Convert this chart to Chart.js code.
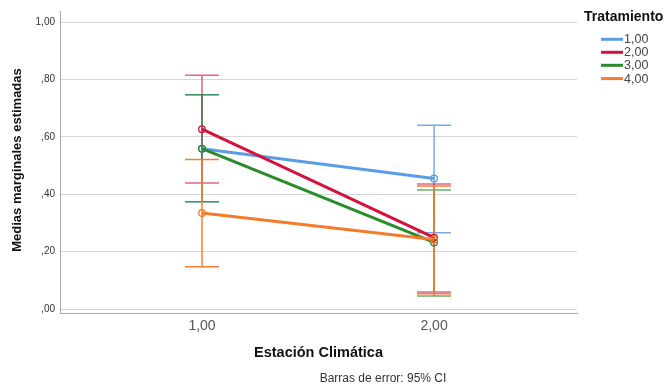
<!DOCTYPE html>
<html>
<head>
<meta charset="utf-8">
<script src="https://cdn.jsdelivr.net/npm/chart.js@4/dist/chart.umd.min.js"></script>
<style>
  html, body { margin: 0; padding: 0; background: #ffffff; }
  #wrap { width: 667px; height: 386px; position: relative; }
</style>
</head>
<body>
<div id="wrap"><canvas id="c" width="667" height="386"></canvas></div>
<script>
// Estimated marginal means by climatic station, one line per treatment, with 95% CI bars
const categories = [1, 2];
const xTickLabels = ['1,00', '2,00'];
const yTickValues = [0, 0.2, 0.4, 0.6, 0.8, 1.0];
const yTickLabels = [',00', ',20', ',40', ',60', ',80', '1,00'];
const seriesNames = ['1,00', '2,00', '3,00', '4,00'];

const means1 = [0.559, 0.455];
const lower1 = [0.374, 0.266];
const upper1 = [0.747, 0.641];

const means2 = [0.627, 0.249];
const lower2 = [0.439, 0.059];
const upper2 = [0.815, 0.436];

const means3 = [0.559, 0.232];
const lower3 = [0.374, 0.045];
const upper3 = [0.747, 0.415];

const means4 = [0.335, 0.242];
const lower4 = [0.147, 0.053];
const upper4 = [0.521, 0.429];

const colors = ['#5a9de6', '#d4123c', '#2b8a2e', '#f47b2c'];
const barColors = ['rgba(90,157,230,0.85)', 'rgba(212,18,60,0.65)', 'rgba(43,138,46,0.7)', 'rgba(246,128,50,1)'];

const allMeans = [means1, means2, means3, means4];
const allLower = [lower1, lower2, lower3, lower4];
const allUpper = [upper1, upper2, upper3, upper4];

const FONT = '"Liberation Sans", Arial, sans-serif';

const datasets = seriesNames.map((name, i) => ({
  label: name,
  data: categories.map((c, j) => ({ x: c, y: allMeans[i][j] })),
  borderColor: colors[i],
  backgroundColor: 'rgba(0,0,0,0)',
  borderWidth: 3,
  pointRadius: 3.3,
  pointBorderWidth: 1.3,
  pointBackgroundColor: 'rgba(255,255,255,0)',
  pointBorderColor: colors[i],
  tension: 0,
  order: seriesNames.length - i
}));

// CI whiskers, drawn under the mean lines through the chart scales
const errorBars = {
  id: 'errorBars',
  beforeDatasetsDraw(chart) {
    const { ctx, scales: { x, y } } = chart;
    const cap = 17;
    ctx.save();
    ctx.lineWidth = 1.5;
    allMeans.forEach((m, i) => {
      ctx.strokeStyle = barColors[i];
      categories.forEach((c, j) => {
        const px = x.getPixelForValue(c);
        const lo = y.getPixelForValue(allLower[i][j]);
        const hi = y.getPixelForValue(allUpper[i][j]);
        ctx.beginPath();
        ctx.moveTo(px, lo); ctx.lineTo(px, hi);
        ctx.moveTo(px - cap, lo); ctx.lineTo(px + cap, lo);
        ctx.moveTo(px - cap, hi); ctx.lineTo(px + cap, hi);
        ctx.stroke();
      });
    });
    ctx.restore();
  }
};

// Axis titles, footnote and legend
const annotations = {
  id: 'annotations',
  afterDraw(chart) {
    const { ctx, chartArea } = chart;
    ctx.save();
    ctx.fillStyle = '#111';
    ctx.textBaseline = 'middle';

    ctx.font = 'bold 13px ' + FONT;
    ctx.textAlign = 'center';
    ctx.save();
    ctx.translate(17, 160);
    ctx.rotate(-Math.PI / 2);
    ctx.fillText('Medias marginales estimadas', 0, 0);
    ctx.restore();

    ctx.font = 'bold 14.5px ' + FONT;
    ctx.fillText('Estación Climática', (chartArea.left + chartArea.right) / 2, 353);

    ctx.font = '12px ' + FONT;
    ctx.fillStyle = '#333';
    ctx.fillText('Barras de error: 95% CI', 383, 379);

    ctx.textAlign = 'left';
    ctx.fillStyle = '#111';
    ctx.font = 'bold 14px ' + FONT;
    ctx.fillText('Tratamiento', 584, 17);

    ctx.font = '12.5px ' + FONT;
    const rowY = [39.3, 52.3, 65.3, 78.6];
    seriesNames.forEach((name, i) => {
      ctx.strokeStyle = colors[i];
      ctx.lineWidth = 3;
      ctx.beginPath();
      ctx.moveTo(601, rowY[i]); ctx.lineTo(623, rowY[i]);
      ctx.stroke();
      ctx.fillStyle = '#444';
      ctx.fillText(name, 624, rowY[i] + 0.5);
    });
    ctx.restore();
  }
};

new Chart(document.getElementById('c'), {
  type: 'line',
  data: { datasets },
  plugins: [errorBars, annotations],
  options: {
    responsive: false,
    animation: false,
    layout: { padding: { top: 9, right: 90, left: 0, bottom: 0 } },
    plugins: { legend: { display: false }, tooltip: { enabled: false } },
    scales: {
      x: {
        type: 'linear',
        min: 0.388,
        max: 2.616,
        afterFit(scale) { scale.height = 73; },
        afterBuildTicks(scale) { scale.ticks = categories.map(v => ({ value: v })); },
        grid: { display: false, drawTicks: false },
        border: { display: true, color: '#a8a8a8', width: 1 },
        ticks: {
          padding: 5,
          color: '#555',
          font: { family: FONT, size: 14 },
          callback: (v) => xTickLabels[categories.indexOf(v)]
        }
      },
      y: {
        type: 'linear',
        min: -0.0139,
        max: 1.039,
        afterFit(scale) { scale.width = 60; },
        afterBuildTicks(scale) { scale.ticks = yTickValues.map(v => ({ value: v })); },
        grid: { color: '#d6d6d6', lineWidth: 1, drawTicks: false },
        border: { display: true, color: '#a8a8a8', width: 1 },
        ticks: {
          padding: 5,
          color: '#333',
          font: { family: FONT, size: 10 },
          callback: (v) => yTickLabels[yTickValues.findIndex(t => Math.abs(t - v) < 1e-9)]
        }
      }
    }
  }
});
</script>
</body>
</html>
